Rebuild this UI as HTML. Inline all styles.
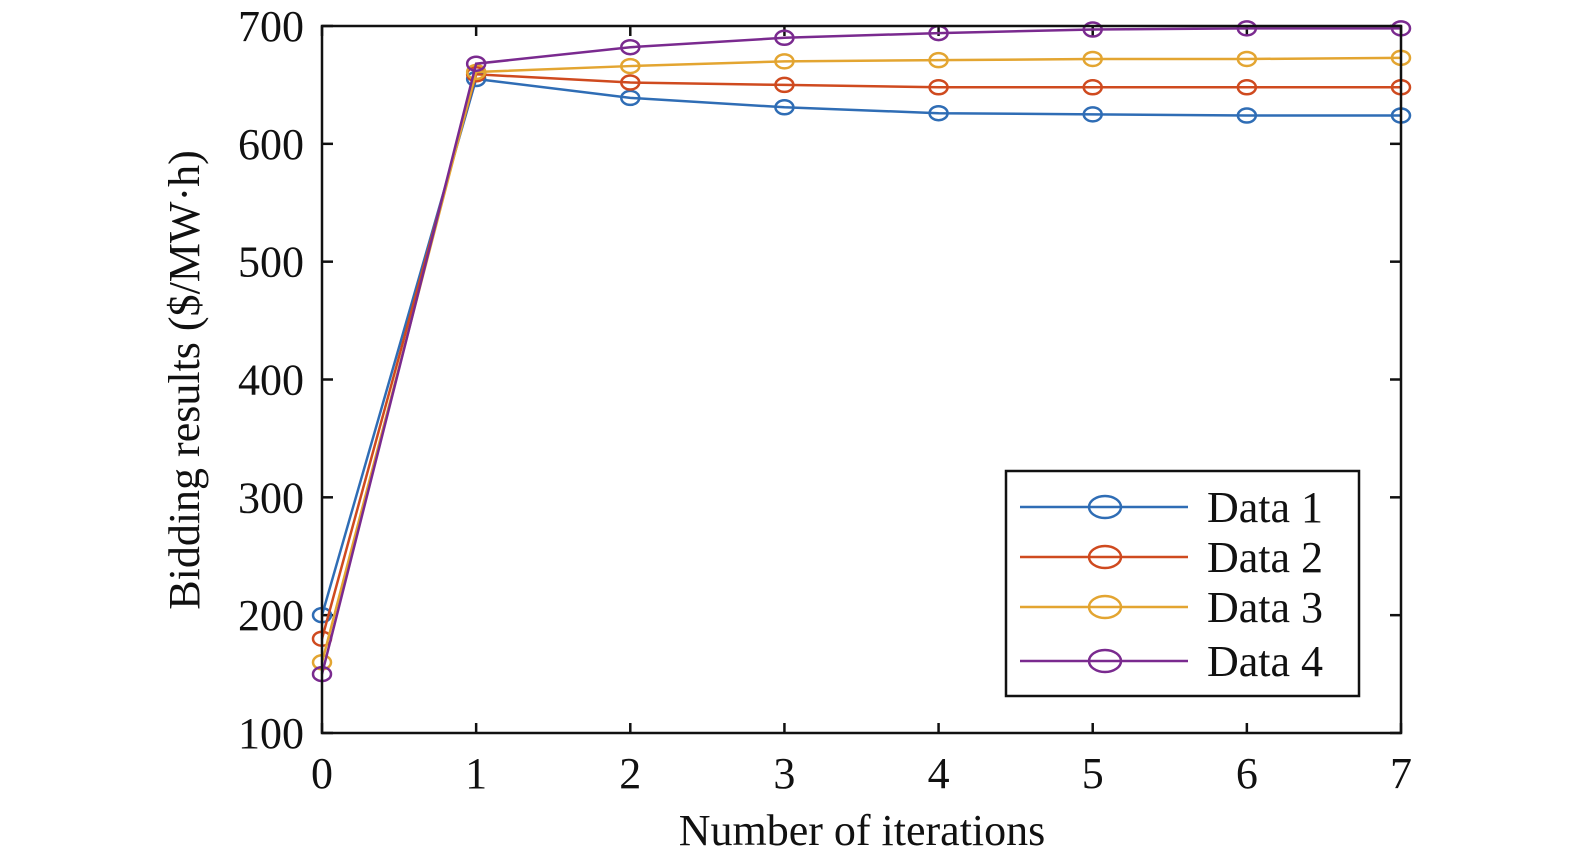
<!DOCTYPE html>
<html><head><meta charset="utf-8"><style>
html,body{margin:0;padding:0;background:#fff}
svg{display:block}
text{font-family:"Liberation Serif",serif;fill:#111}
</style></head><body>
<svg id="chart" width="1575" height="866" viewBox="0 0 1575 866" xmlns="http://www.w3.org/2000/svg">
<g id="plot"></g>
</svg>
<script>
const iterations=[0,1,2,3,4,5,6,7];
const data1=[200,655,639,631,626,625,624,624];
const data2=[180,659,652,650,648,648,648,648];
const data3=[160,661,666,670,671,672,672,673];
const data4=[150,668,682,690,694,697,698,698];
const seriesNames=["Data 1","Data 2","Data 3","Data 4"];
const xTicks=[0,1,2,3,4,5,6,7];
const yTicks=[100,200,300,400,500,600,700];

const NS="http://www.w3.org/2000/svg";
const svg=document.getElementById('plot');
const L=322,R=1401,T=26,B=733;
const x=v=>L+(v-0)/(7-0)*(R-L);
const y=v=>B-(v-100)/(700-100)*(B-T);
function mk(tag,attrs,parent){const e=document.createElementNS(NS,tag);for(const k in attrs)e.setAttribute(k,attrs[k]);(parent||svg).appendChild(e);return e;}
const colors=["#2f6db5","#cf4a1f","#e3a531","#7a2a8f"];
const all=[data1,data2,data3,data4];

// ticks
xTicks.forEach(t=>{
  const g=mk('g',{});
  
  
  mk('line',{x1:x(t),x2:x(t),y1:B,y2:B-10,stroke:'#111','stroke-width':2.5},g);
  mk('line',{x1:x(t),x2:x(t),y1:T,y2:T+10,stroke:'#111','stroke-width':2.5},g);
  const tx=mk('text',{x:x(t),y:788,'text-anchor':'middle','font-size':44},g);tx.textContent=t;
});
yTicks.forEach(t=>{
  const g=mk('g',{});
  
  
  mk('line',{x1:L,x2:L+11,y1:y(t),y2:y(t),stroke:'#111','stroke-width':2.5},g);
  mk('line',{x1:R,x2:R-11,y1:y(t),y2:y(t),stroke:'#111','stroke-width':2.5},g);
  const tx=mk('text',{x:304,y:y(t)+15,'text-anchor':'end','font-size':44},g);tx.textContent=t;
});

// series
all.forEach((d,i)=>{
  const g=mk('g',{});
  
  
  mk('polyline',{points:d.map((v,j)=>x(iterations[j])+','+y(v)).join(' '),fill:'none',stroke:colors[i],'stroke-width':2.5},g);
  d.forEach((v,j)=>{
    const m=mk('ellipse',{cx:x(iterations[j]),cy:y(v),rx:9,ry:7,fill:'none',stroke:colors[i],'stroke-width':2.5},g);
    
    
  });
});

// frame
const fr=mk('rect',{x:L,y:T,width:R-L,height:B-T,fill:'none',stroke:'#111','stroke-width':2.5});



// legend
const lg=mk('g',{});


mk('rect',{x:1006,y:471,width:353,height:225,fill:'#fff',stroke:'#111','stroke-width':2.5},lg);
const ly=[507,557,607,661];
seriesNames.forEach((n,i)=>{
  const e=mk('g',{},lg);
  
  
  mk('line',{x1:1020,x2:1188,y1:ly[i],y2:ly[i],stroke:colors[i],'stroke-width':2.5},e);
  mk('ellipse',{cx:1105,cy:ly[i],rx:16,ry:11,fill:'none',stroke:colors[i],'stroke-width':2.5},e);
  const t=mk('text',{x:1207,y:ly[i]+15,'font-size':44},e);t.textContent=n;
});

// axis titles
const xt=mk('text',{x:862,y:845,'text-anchor':'middle','font-size':44});
xt.textContent='Number of iterations';


const yt=mk('text',{x:0,y:0,'text-anchor':'middle','font-size':44,transform:'translate(199,380) rotate(-90)'});
yt.textContent='Bidding results ($/MW·h)';


</script>
</body></html>
